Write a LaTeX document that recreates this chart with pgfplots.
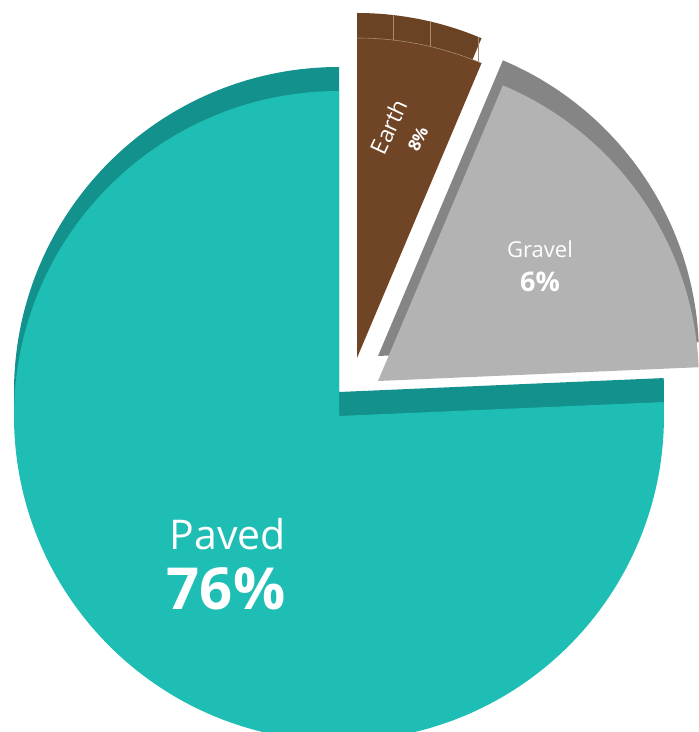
\documentclass[border=0pt]{standalone}
\usepackage{pgfplots}
\pgfplotsset{compat=1.18}
\usepackage{fontspec}
\setmainfont{Open Sans}
\definecolor{pavedface}{HTML}{1FBEB5}
\definecolor{pavedback}{HTML}{13918C}
\definecolor{earthface}{HTML}{6F4526}
\definecolor{earthback}{HTML}{6A4224}
\definecolor{earthline}{HTML}{A88A6E}
\definecolor{gravelface}{HTML}{B3B3B3}
\definecolor{gravelback}{HTML}{858585}
% slice: cx cy r start end depth backcolour facecolour
\newcommand\pieslice[8]{%
  \fill[#7] (#1,{#2+#6}) -- ++(#4:#3pt) arc[start angle=#4,end angle=#5,radius=#3pt] -- cycle;
  \fill[#8] (#1,#2) -- ++(#4:#3pt) arc[start angle=#4,end angle=#5,radius=#3pt] -- cycle;
}
\begin{document}
\begin{tikzpicture}
\begin{axis}[x=1pt,y=1pt,xmin=0,xmax=699,ymin=0,ymax=732,hide axis,clip=true]
% Paved (90 -> 362.46 deg), Earth (67.1 -> 90), Gravel (2.46 -> 67.1)
\pieslice{339}{316}{325}{90}{362.46}{24}{pavedback}{pavedface}
\pieslice{357}{374}{320}{67.1}{90}{25}{earthback}{earthface}
\draw[earthline,line width=0.6pt] (357,694) arc[start angle=90,end angle=67.1,radius=320pt];
\draw[earthline,line width=0.6pt] (393,691.97) -- ++(0,25);
\draw[earthline,line width=0.6pt] (430,685.56) -- ++(0,25);
\draw[earthline,line width=0.6pt] (478,670.24) -- ++(0,25);
\pieslice{378}{351}{321}{2.46}{67.1}{25}{gravelback}{gravelface}
% labels
\node[text=white,anchor=base,font=\fontsize{41}{45}\selectfont] at (228,182) {Paved};
\node[text=white,anchor=base,font=\fontsize{58}{62}\selectfont\bfseries] at (226,122) {76\%};
\node[text=white,anchor=base,font=\fontsize{22}{26}\selectfont] at (540,474) {Gravel};
\node[text=white,anchor=base,font=\fontsize{27}{30}\selectfont\bfseries] at (540,440) {6\%};
\node[text=white,rotate=65,font=\fontsize{23}{26}\selectfont,inner sep=0pt] at (389,605) {Earth};
\node[text=white,rotate=65,font=\fontsize{17}{20}\selectfont\bfseries,inner sep=0pt] at (418,593) {8\%};
\end{axis}
\pgfresetboundingbox
\useasboundingbox (current axis.south west) rectangle (current axis.north east);
\end{tikzpicture}
\end{document}
